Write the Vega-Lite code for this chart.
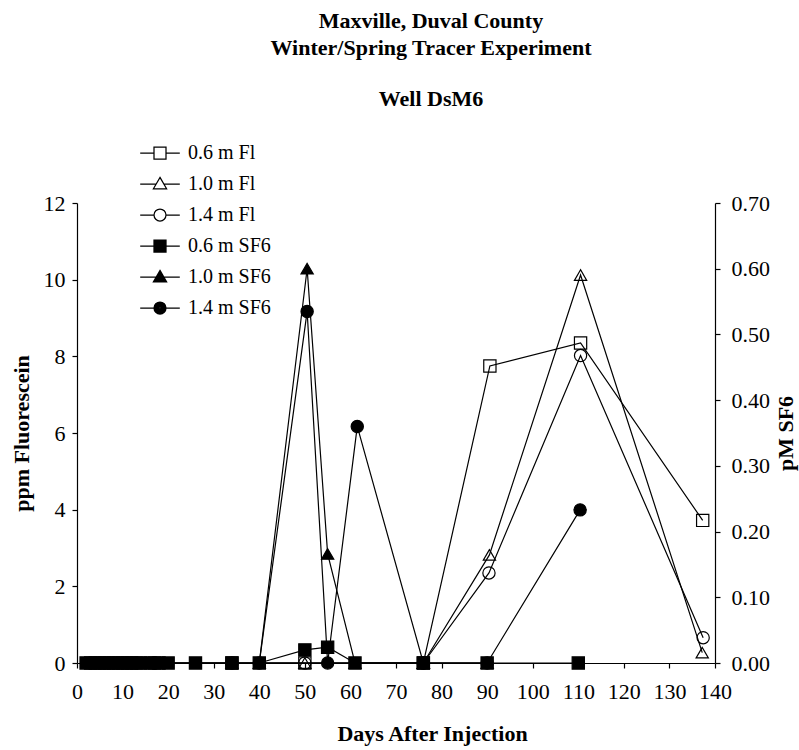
{
  "$schema": "https://vega.github.io/schema/vega-lite/v6.json",
  "autosize": {"type": "none"},
  "padding": {"left": 77, "top": 203, "right": 84, "bottom": 87},
  "width": 638,
  "height": 460,
  "title": {
    "text": ["Maxville, Duval County", "Winter/Spring Tracer Experiment"],
    "subtitle": "Well DsM6",
    "anchor": "middle",
    "frame": "group",
    "dx": 35,
    "font": "Liberation Serif",
    "fontSize": 22,
    "fontWeight": "bold",
    "color": "black",
    "lineHeight": 27,
    "subtitleFont": "Liberation Serif",
    "subtitleFontSize": 22,
    "subtitleFontWeight": "bold",
    "subtitleColor": "black",
    "subtitlePadding": 29,
    "offset": 32
  },
  "datasets": {
    "obs": [
      {"d": 17, "s": "0.6 m Fl", "t": "Fl", "v": 0},
      {"d": 34, "s": "0.6 m Fl", "t": "Fl", "v": 0},
      {"d": 50, "s": "0.6 m Fl", "t": "Fl", "v": 0},
      {"d": 76, "s": "0.6 m Fl", "t": "Fl", "v": 0},
      {"d": 90.6, "s": "0.6 m Fl", "t": "Fl", "v": 7.75},
      {"d": 110.5, "s": "0.6 m Fl", "t": "Fl", "v": 8.35},
      {"d": 137.3, "s": "0.6 m Fl", "t": "Fl", "v": 3.72},
      {"d": 17, "s": "1.0 m Fl", "t": "Fl", "v": 0},
      {"d": 34, "s": "1.0 m Fl", "t": "Fl", "v": 0},
      {"d": 50, "s": "1.0 m Fl", "t": "Fl", "v": 0},
      {"d": 76, "s": "1.0 m Fl", "t": "Fl", "v": 0},
      {"d": 90.5, "s": "1.0 m Fl", "t": "Fl", "v": 2.82},
      {"d": 110.5, "s": "1.0 m Fl", "t": "Fl", "v": 10.12},
      {"d": 137.2, "s": "1.0 m Fl", "t": "Fl", "v": 0.27},
      {"d": 17, "s": "1.4 m Fl", "t": "Fl", "v": 0},
      {"d": 34, "s": "1.4 m Fl", "t": "Fl", "v": 0},
      {"d": 50, "s": "1.4 m Fl", "t": "Fl", "v": 0},
      {"d": 76, "s": "1.4 m Fl", "t": "Fl", "v": 0},
      {"d": 90.4, "s": "1.4 m Fl", "t": "Fl", "v": 2.35},
      {"d": 110.5, "s": "1.4 m Fl", "t": "Fl", "v": 8.02},
      {"d": 137.4, "s": "1.4 m Fl", "t": "Fl", "v": 0.66},
      {"d": 2, "s": "0.6 m SF6", "t": "SF6", "v": 0},
      {"d": 3, "s": "0.6 m SF6", "t": "SF6", "v": 0},
      {"d": 4, "s": "0.6 m SF6", "t": "SF6", "v": 0},
      {"d": 5, "s": "0.6 m SF6", "t": "SF6", "v": 0},
      {"d": 6, "s": "0.6 m SF6", "t": "SF6", "v": 0},
      {"d": 7, "s": "0.6 m SF6", "t": "SF6", "v": 0},
      {"d": 8, "s": "0.6 m SF6", "t": "SF6", "v": 0},
      {"d": 9, "s": "0.6 m SF6", "t": "SF6", "v": 0},
      {"d": 10, "s": "0.6 m SF6", "t": "SF6", "v": 0},
      {"d": 11, "s": "0.6 m SF6", "t": "SF6", "v": 0},
      {"d": 12, "s": "0.6 m SF6", "t": "SF6", "v": 0},
      {"d": 13, "s": "0.6 m SF6", "t": "SF6", "v": 0},
      {"d": 14, "s": "0.6 m SF6", "t": "SF6", "v": 0},
      {"d": 16, "s": "0.6 m SF6", "t": "SF6", "v": 0},
      {"d": 18, "s": "0.6 m SF6", "t": "SF6", "v": 0},
      {"d": 20, "s": "0.6 m SF6", "t": "SF6", "v": 0},
      {"d": 26, "s": "0.6 m SF6", "t": "SF6", "v": 0},
      {"d": 34, "s": "0.6 m SF6", "t": "SF6", "v": 0},
      {"d": 40, "s": "0.6 m SF6", "t": "SF6", "v": 0},
      {"d": 50, "s": "0.6 m SF6", "t": "SF6", "v": 0.02},
      {"d": 55, "s": "0.6 m SF6", "t": "SF6", "v": 0.024},
      {"d": 61, "s": "0.6 m SF6", "t": "SF6", "v": 0},
      {"d": 76, "s": "0.6 m SF6", "t": "SF6", "v": 0},
      {"d": 90, "s": "0.6 m SF6", "t": "SF6", "v": 0},
      {"d": 110, "s": "0.6 m SF6", "t": "SF6", "v": 0},
      {"d": 40, "s": "1.0 m SF6", "t": "SF6", "v": 0},
      {"d": 50.5, "s": "1.0 m SF6", "t": "SF6", "v": 0.6},
      {"d": 55, "s": "1.0 m SF6", "t": "SF6", "v": 0.166},
      {"d": 61, "s": "1.0 m SF6", "t": "SF6", "v": 0},
      {"d": 76, "s": "1.0 m SF6", "t": "SF6", "v": 0},
      {"d": 90, "s": "1.0 m SF6", "t": "SF6", "v": 0},
      {"d": 40, "s": "1.4 m SF6", "t": "SF6", "v": 0},
      {"d": 50.5, "s": "1.4 m SF6", "t": "SF6", "v": 0.535},
      {"d": 55, "s": "1.4 m SF6", "t": "SF6", "v": 0},
      {"d": 61.5, "s": "1.4 m SF6", "t": "SF6", "v": 0.36},
      {"d": 76, "s": "1.4 m SF6", "t": "SF6", "v": 0},
      {"d": 90, "s": "1.4 m SF6", "t": "SF6", "v": 0},
      {"d": 110.4, "s": "1.4 m SF6", "t": "SF6", "v": 0.233}
    ]
  },
  "data": {"name": "obs"},
  "layer": [
    {
      "transform": [{"filter": "datum.t == 'Fl'"}],
      "encoding": {
        "x": {
          "field": "d", "type": "quantitative",
          "scale": {"domain": [0, 140], "nice": false, "zero": false},
          "axis": {
            "values": [0, 10, 20, 30, 40, 50, 60, 70, 80, 90, 100, 110, 120, 130, 140],
            "labelOverlap": false,
            "labelFlush": false,
            "title": "Days After Injection",
            "labelPadding": 13,
            "titleX": 355, "titleY": 77,
            "titleBaseline": "alphabetic", "titleAlign": "center"
          }
        },
        "y": {
          "field": "v", "type": "quantitative",
          "scale": {"domain": [0, 12], "nice": false, "zero": false},
          "axis": {
            "orient": "left",
            "values": [0, 2, 4, 6, 8, 10, 12],
            "labelOverlap": false,
            "labelFlush": false,
            "title": "ppm Fluorescein",
            "labelPadding": 7,
            "titleAngle": 270,
            "titleX": -56, "titleY": 230,
            "titleAlign": "center", "titleBaseline": "middle"
          }
        }
      },
      "layer": [
        {
          "mark": {"type": "line", "color": "black", "strokeWidth": 1.2},
          "encoding": {"detail": {"field": "s"}}
        },
        {
          "transform": [{"filter": "datum.s == '0.6 m Fl'"}],
          "mark": {"type": "point", "shape": "square", "filled": false, "color": "black", "strokeWidth": 1.2, "size": 150, "opacity": 1}
        },
        {
          "transform": [{"filter": "datum.s == '1.0 m Fl'"}],
          "mark": {"type": "point", "shape": "triangle-up", "filled": false, "color": "black", "strokeWidth": 1.2, "size": 150, "opacity": 1}
        },
        {
          "transform": [{"filter": "datum.s == '1.4 m Fl'"}],
          "mark": {"type": "point", "shape": "circle", "filled": false, "color": "black", "strokeWidth": 1.2, "size": 150, "opacity": 1}
        },
        {
          "transform": [{"filter": "datum.t == 'none'"}],
          "mark": {"type": "point", "filled": false, "color": "black", "strokeWidth": 1.25, "size": 144, "opacity": 1},
          "encoding": {
            "shape": {
              "field": "s", "type": "nominal",
              "scale": {
                "domain": ["0.6 m Fl", "1.0 m Fl", "1.4 m Fl", "0.6 m SF6", "1.0 m SF6", "1.4 m SF6"],
                "range": [
                  "M-3.3,0H-1M1,0H3.3M-1,-1H1V1H-1Z",
                  "M-3.3,0H-0.64M0.64,0H3.3M0,-1.1L1.1,0.8H-1.1Z",
                  "M-3.3,0H-1M1,0H3.3M-1,0C-1,-0.552,-0.552,-1,0,-1C0.552,-1,1,-0.552,1,0C1,0.552,0.552,1,0,1C-0.552,1,-1,0.552,-1,0Z",
                  "M-3.3,0H3.3M-1,-1H1V1H-1ZM-0.85,-0.85H0.85V0.85H-0.85ZM-0.7,-0.7H0.7V0.7H-0.7ZM-0.55,-0.55H0.55V0.55H-0.55ZM-0.4,-0.4H0.4V0.4H-0.4ZM-0.25,-0.25H0.25V0.25H-0.25ZM-0.1,-0.1H0.1V0.1H-0.1Z",
                  "M-3.3,0H3.3M0,-1.1L1.1,0.8H-1.1ZM0,-0.91L0.935,0.705H-0.935ZM0,-0.72L0.77,0.61H-0.77ZM0,-0.53L0.605,0.515H-0.605ZM0,-0.34L0.44,0.42H-0.44ZM0,-0.15L0.275,0.325H-0.275ZM0,0.04L0.11,0.23H-0.11Z",
                  "M-3.3,0H3.3M-1,0C-1,-0.552,-0.552,-1,0,-1C0.552,-1,1,-0.552,1,0C1,0.552,0.552,1,0,1C-0.552,1,-1,0.552,-1,0ZM-0.85,0C-0.85,-0.469,-0.469,-0.85,0,-0.85C0.469,-0.85,0.85,-0.469,0.85,0C0.85,0.469,0.469,0.85,0,0.85C-0.469,0.85,-0.85,0.469,-0.85,0ZM-0.7,0C-0.7,-0.386,-0.386,-0.7,0,-0.7C0.386,-0.7,0.7,-0.386,0.7,0C0.7,0.386,0.386,0.7,0,0.7C-0.386,0.7,-0.7,0.386,-0.7,0ZM-0.55,0C-0.55,-0.304,-0.304,-0.55,0,-0.55C0.304,-0.55,0.55,-0.304,0.55,0C0.55,0.304,0.304,0.55,0,0.55C-0.304,0.55,-0.55,0.304,-0.55,0ZM-0.4,0C-0.4,-0.221,-0.221,-0.4,0,-0.4C0.221,-0.4,0.4,-0.221,0.4,0C0.4,0.221,0.221,0.4,0,0.4C-0.221,0.4,-0.4,0.221,-0.4,0ZM-0.25,0C-0.25,-0.138,-0.138,-0.25,0,-0.25C0.138,-0.25,0.25,-0.138,0.25,0C0.25,0.138,0.138,0.25,0,0.25C-0.138,0.25,-0.25,0.138,-0.25,0ZM-0.1,0H0.1"
                ]
              },
              "legend": {
                "title": null,
                "orient": "none",
                "legendX": 73,
                "legendY": -60,
                "padding": 0,
                "symbolSize": 144,
                "symbolStrokeWidth": 1.25,
                "symbolStrokeColor": "black",
                "symbolOpacity": 1,
                "labelOffset": 18,
                "rowPadding": 11,
                "labelFont": "Liberation Serif",
                "labelFontSize": 20,
                "labelColor": "black"
              }
            }
          }
        }
      ]
    },
    {
      "transform": [{"filter": "datum.t == 'SF6'"}],
      "encoding": {
        "x": {"field": "d", "type": "quantitative", "scale": {"domain": [0, 140], "nice": false, "zero": false}},
        "y": {
          "field": "v", "type": "quantitative",
          "scale": {"domain": [0, 0.7], "nice": false, "zero": false},
          "axis": {
            "orient": "right",
            "values": [0, 0.1, 0.2, 0.3, 0.4, 0.5, 0.6, 0.7],
            "labelOverlap": false,
            "labelFlush": false,
            "format": ".2f",
            "title": "pM SF6",
            "labelPadding": 11,
            "titleAngle": 270,
            "titleX": 70, "titleY": 230,
            "titleAlign": "center", "titleBaseline": "middle"
          }
        }
      },
      "layer": [
        {
          "mark": {"type": "line", "color": "black", "strokeWidth": 1.2},
          "encoding": {"detail": {"field": "s"}}
        },
        {
          "transform": [{"filter": "datum.s == '0.6 m SF6'"}],
          "mark": {"type": "point", "shape": "square", "filled": true, "color": "black", "stroke": "black", "strokeWidth": 1.2, "size": 150, "opacity": 1}
        },
        {
          "transform": [{"filter": "datum.s == '1.0 m SF6'"}],
          "mark": {"type": "point", "shape": "triangle-up", "filled": true, "color": "black", "stroke": "black", "strokeWidth": 1.2, "size": 150, "opacity": 1}
        },
        {
          "transform": [{"filter": "datum.s == '1.4 m SF6'"}],
          "mark": {"type": "point", "shape": "circle", "filled": true, "color": "black", "stroke": "black", "strokeWidth": 1.2, "size": 150, "opacity": 1}
        }
      ]
    }
  ],
  "resolve": {"scale": {"y": "independent"}},
  "config": {
    "view": {"stroke": null},
    "background": "white",
    "axis": {
      "grid": false,
      "domainColor": "black",
      "domainWidth": 1.2,
      "tickColor": "black",
      "tickSize": 5,
      "tickWidth": 1.2,
      "labelColor": "black",
      "labelFont": "Liberation Serif",
      "labelFontSize": 22,
      "titleColor": "black",
      "titleFont": "Liberation Serif",
      "titleFontSize": 22,
      "titleFontWeight": "bold"
    }
  }
}
